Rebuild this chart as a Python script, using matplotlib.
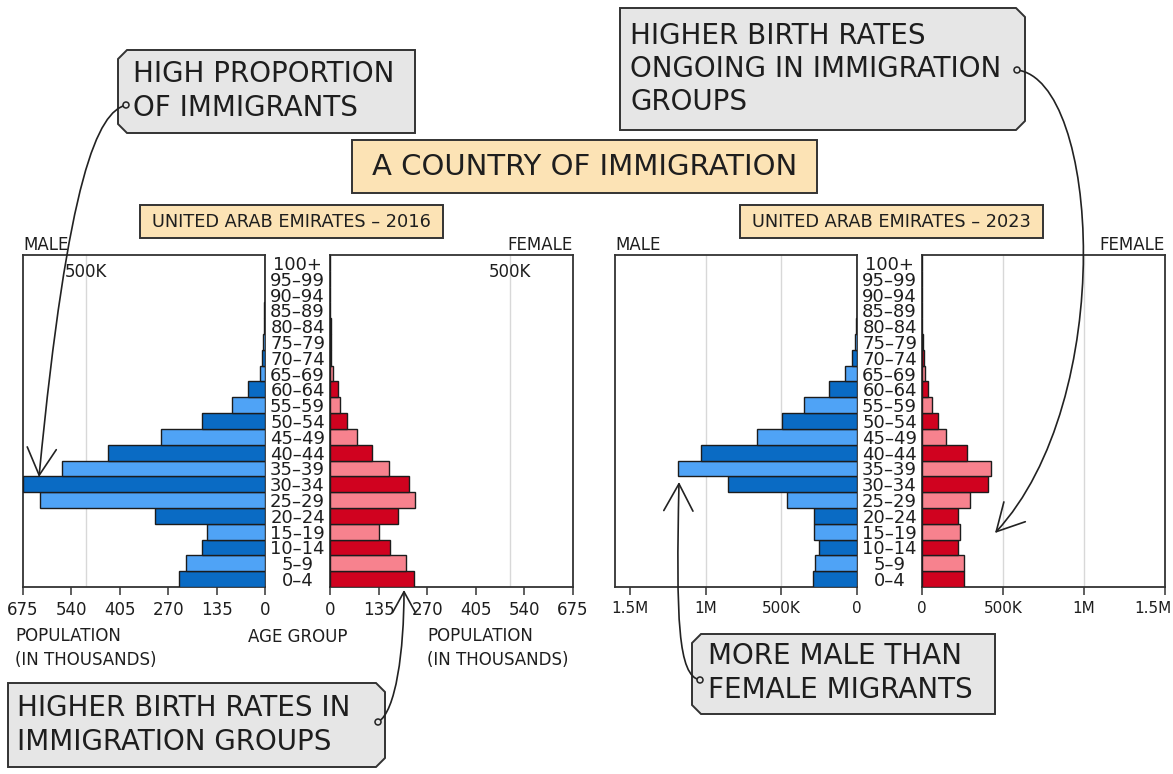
import matplotlib
matplotlib.use("Agg")
import matplotlib.pyplot as plt
import matplotlib.transforms as mtransforms
import numpy as np
from matplotlib.patches import Polygon, FancyArrowPatch, Rectangle, Circle
from matplotlib.path import Path

plt.rcParams['font.family'] = ['DejaVu Sans']

# ---------------- data ----------------
age_groups = ['0–4', '5–9', '10–14', '15–19', '20–24', '25–29', '30–34', '35–39',
              '40–44', '45–49', '50–54', '55–59', '60–64', '65–69', '70–74', '75–79',
              '80–84', '85–89', '90–94', '95–99', '100+']
# population in thousands
male_2016 = [239, 221, 175, 163, 307, 628, 675, 565, 439, 291, 177, 91, 47, 14, 7, 5, 3, 1.5, 1, 0.5, 0.3]
female_2016 = [232, 211, 167, 137, 190, 235, 219, 165, 116, 75, 47, 28, 21, 9, 4, 3, 2, 1, 0.5, 0.3, 0.2]
male_2023 = [290, 275, 253, 284, 284, 466, 851, 1181, 1031, 660, 493, 352, 185, 81, 31, 11, 4, 2, 1, 0.5, 0.3]
female_2023 = [261, 257, 220, 235, 220, 298, 405, 426, 278, 148, 99, 60, 37, 16, 10, 4, 2, 1, 0.5, 0.3, 0.2]

ticks_2016 = [0, 135, 270, 405, 540, 675]
tick_labels_2016 = ['0', '135', '270', '405', '540', '675']
ticks_2023 = [0, 500, 1000, 1500]
tick_labels_2023 = ['0', '500K', '1M', '1.5M']

# ---------------- style ----------------
W, H = 1173, 774
DARK_BLUE = '#0a6bc4'
LIGHT_BLUE = '#4fa3f6'
DARK_RED = '#d0021f'
PINK = '#f7828e'
EDGE = '#1c1c1c'
SPINE = '#333333'
GRID = '#d8d8d8'
WHEAT = '#fce3b5'
GREY = '#e6e6e6'
TXT = '#1e1e1e'

fig = plt.figure(figsize=(W / 100, H / 100), dpi=100)
fig.patch.set_facecolor('white')


def rect(x0, y0, x1, y1):
    return [x0 / W, 1 - y1 / H, (x1 - x0) / W, (y1 - y0) / H]


def style_axes(ax, tick_fs):
    for s in ax.spines.values():
        s.set_color(SPINE)
        s.set_linewidth(1.3)
    ax.tick_params(axis='x', direction='out', length=6, width=1.1, color=SPINE,
                   labelsize=tick_fs, labelcolor=TXT, pad=4)
    ax.set_ylim(-0.5, len(age_groups) - 0.5)


def draw_side(ax, values, colors, xmax, invert, ticks, labels, grids, tick_fs):
    y = np.arange(len(age_groups))
    ax.barh(y, values, height=1.0, color=colors, edgecolor=EDGE, linewidth=1.0, zorder=3)
    for g in grids:
        ax.axvline(g, color=GRID, lw=1.0, zorder=1)
    if invert:
        ax.set_xlim(xmax, 0)
    else:
        ax.set_xlim(0, xmax)
    ax.set_xticks(ticks)
    ax.set_xticklabels(labels)
    style_axes(ax, tick_fs)


male_cols = [DARK_BLUE if i % 2 == 0 else LIGHT_BLUE for i in range(len(age_groups))]
female_cols = [DARK_RED if i % 2 == 0 else PINK for i in range(len(age_groups))]

# 2016
axm16 = fig.add_axes(rect(23, 255, 265, 587))
draw_side(axm16, male_2016, male_cols, 675, True, ticks_2016, tick_labels_2016, [500], 12)
axm16.set_yticks([])
axf16 = fig.add_axes(rect(330, 255, 573, 587))
draw_side(axf16, female_2016, female_cols, 675, False, ticks_2016, tick_labels_2016, [500], 12)

# 2023
axm23 = fig.add_axes(rect(615, 255, 857, 587))
draw_side(axm23, male_2023, male_cols, 1600, True, ticks_2023, tick_labels_2023, [500, 1000], 11)
axm23.set_yticks([])
axf23 = fig.add_axes(rect(922, 255, 1165, 587))
draw_side(axf23, female_2023, female_cols, 1500, False, ticks_2023, tick_labels_2023, [500, 1000], 11)

# nudge the last tick label so it stays inside the figure
last = axf23.get_xticklabels()[-1]
last.set_transform(last.get_transform() +
                   mtransforms.ScaledTranslation(-0.12, 0, fig.dpi_scale_trans))

for ax in (axf16, axf23):
    ax.set_yticks(np.arange(len(age_groups)))
    ax.set_yticklabels(age_groups)
    ax.tick_params(axis='y', length=0, pad=23.4, labelsize=13, labelcolor=TXT)
    for lab in ax.get_yticklabels():
        lab.set_horizontalalignment('center')

# "500K" labels on the 2016 grid lines
for ax in (axm16, axf16):
    ax.text(500, 19.4, '500K', ha='center', va='center', fontsize=12, color=TXT, zorder=4)

# ---------------- overlay for annotations ----------------
ov = fig.add_axes([0, 0, 1, 1], zorder=10)
ov.set_xlim(0, W)
ov.set_ylim(H, 0)
ov.axis('off')
ov.patch.set_alpha(0)

# MALE / FEMALE headers
for x, s, ha in [(23, 'MALE', 'left'), (573, 'FEMALE', 'right'),
                 (615, 'MALE', 'left'), (1165, 'FEMALE', 'right')]:
    ov.text(x, 245, s, ha=ha, va='center', fontsize=12, color=TXT)

# bottom axis labels
ov.text(15, 648, 'POPULATION\n(IN THOUSANDS)', ha='left', va='center', fontsize=12,
        color=TXT, linespacing=1.45)
ov.text(427, 648, 'POPULATION\n(IN THOUSANDS)', ha='left', va='center', fontsize=12,
        color=TXT, linespacing=1.45)
ov.text(298, 637, 'AGE GROUP', ha='center', va='center', fontsize=12, color=TXT)


def plain_box(x0, y0, x1, y1, fc):
    ov.add_patch(Rectangle((x0, y0), x1 - x0, y1 - y0, facecolor=fc, edgecolor=SPINE,
                           lw=1.4, zorder=2))


def notched_box(x0, y0, x1, y1, side, n=9):
    if side == 'left':
        pts = [(x0 + n, y0), (x1, y0), (x1, y1), (x0 + n, y1), (x0, y1 - n), (x0, y0 + n)]
    else:
        pts = [(x0, y0), (x1 - n, y0), (x1, y0 + n), (x1, y1 - n), (x1 - n, y1), (x0, y1)]
    ov.add_patch(Polygon(pts, closed=True, facecolor=GREY, edgecolor=SPINE, lw=1.4, zorder=2))


BOX_FS = 20

# title boxes
plain_box(352, 140, 817, 193, WHEAT)
ov.text(584.5, 167, 'A COUNTRY OF IMMIGRATION', ha='center', va='center', fontsize=21,
        color=TXT, zorder=3)
plain_box(140, 205, 443, 238, WHEAT)
ov.text(291.5, 222, 'UNITED ARAB EMIRATES – 2016', ha='center', va='center', fontsize=12.8,
        color=TXT, zorder=3)
plain_box(740, 205, 1043, 238, WHEAT)
ov.text(891.5, 222, 'UNITED ARAB EMIRATES – 2023', ha='center', va='center', fontsize=12.8,
        color=TXT, zorder=3)

# annotation boxes
notched_box(118, 50, 415, 133, 'left')
ov.text(133, 91, 'HIGH PROPORTION\nOF IMMIGRANTS', ha='left', va='center', fontsize=BOX_FS,
        color=TXT, linespacing=1.25, zorder=3)
notched_box(620, 8, 1025, 130, 'right')
ov.text(630, 69, 'HIGHER BIRTH RATES\nONGOING IN IMMIGRATION\nGROUPS', ha='left', va='center',
        fontsize=BOX_FS, color=TXT, linespacing=1.25, zorder=3)
notched_box(8, 683, 385, 767, 'right')
ov.text(17, 725, 'HIGHER BIRTH RATES IN\nIMMIGRATION GROUPS', ha='left', va='center',
        fontsize=BOX_FS, color=TXT, linespacing=1.25, zorder=3)
notched_box(692, 634, 995, 714, 'left')
ov.text(708, 673, 'MORE MALE THAN\nFEMALE MIGRANTS', ha='left', va='center', fontsize=BOX_FS,
        color=TXT, linespacing=1.25, zorder=3)


def curved_arrow(p0, c1, c2, p3, hl=1.3, hw=0.7):
    path = Path([p0, c1, c2, p3], [Path.MOVETO, Path.CURVE4, Path.CURVE4, Path.CURVE4])
    arr = FancyArrowPatch(path=path, arrowstyle=f'->,head_length={hl},head_width={hw}',
                          mutation_scale=15, lw=1.2, color='#222222', zorder=5)
    ov.add_patch(arr)
    ov.add_patch(Circle(p0, 3, facecolor=GREY, edgecolor='#222222', lw=1.1, zorder=6))


curved_arrow((126, 105), (98, 112), (68, 175), (39, 477))
curved_arrow((378, 722), (396, 712), (404, 650), (404, 590), hl=1.0, hw=0.55)
curved_arrow((1017, 70), (1100, 80), (1118, 400), (995, 533))
curved_arrow((700, 680), (678, 676), (676, 620), (679, 482))

fig.savefig('out.png', dpi=100, facecolor='white')
